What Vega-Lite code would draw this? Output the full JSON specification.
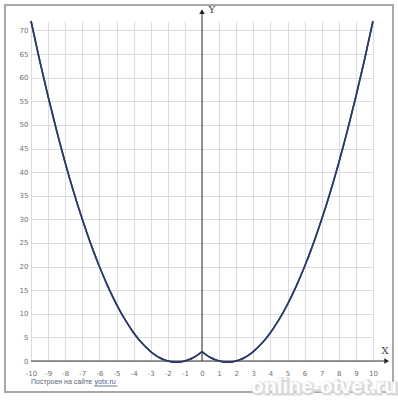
{
  "$schema": "https://vega.github.io/schema/vega-lite/v6.json",
  "width": 342,
  "height": 340,
  "autosize": "none",
  "padding": {"left": 31, "top": 21, "right": 25, "bottom": 39},
  "background": "white",
  "config": {
    "view": {"stroke": null},
    "axis": {
      "grid": true,
      "gridColor": "#dcdcdc",
      "gridWidth": 1,
      "domain": false,
      "ticks": false,
      "labelFont": "DejaVu Sans",
      "labelFontSize": 7,
      "labelColor": "#707070",
      "labelOverlap": false,
      "labelExpr": "'' + datum.value",
      "title": null
    },
    "axisX": {"tickCount": 20, "labelOverlap": false, "labelPadding": 8, "labelFlush": false},
    "axisY": {"tickCount": 15, "labelOverlap": false, "labelPadding": 3, "labelFlush": false}
  },
  "datasets": {
    "curve": [
      {"x": -10, "y": 72, "branch": "L"},
      {"x": -9.5, "y": 63.75, "branch": "L"},
      {"x": -9, "y": 56, "branch": "L"},
      {"x": -8.5, "y": 48.75, "branch": "L"},
      {"x": -8, "y": 42, "branch": "L"},
      {"x": -7.5, "y": 35.75, "branch": "L"},
      {"x": -7, "y": 30, "branch": "L"},
      {"x": -6.5, "y": 24.75, "branch": "L"},
      {"x": -6, "y": 20, "branch": "L"},
      {"x": -5.5, "y": 15.75, "branch": "L"},
      {"x": -5, "y": 12, "branch": "L"},
      {"x": -4.5, "y": 8.75, "branch": "L"},
      {"x": -4, "y": 6, "branch": "L"},
      {"x": -3.5, "y": 3.75, "branch": "L"},
      {"x": -3, "y": 2, "branch": "L"},
      {"x": -2.75, "y": 1.3125, "branch": "L"},
      {"x": -2.5, "y": 0.75, "branch": "L"},
      {"x": -2.25, "y": 0.3125, "branch": "L"},
      {"x": -2, "y": 0, "branch": "L"},
      {"x": -1.75, "y": -0.1875, "branch": "L"},
      {"x": -1.5, "y": -0.25, "branch": "L"},
      {"x": -1.25, "y": -0.1875, "branch": "L"},
      {"x": -1, "y": 0, "branch": "L"},
      {"x": -0.75, "y": 0.3125, "branch": "L"},
      {"x": -0.5, "y": 0.75, "branch": "L"},
      {"x": -0.25, "y": 1.3125, "branch": "L"},
      {"x": 0, "y": 2, "branch": "L"},
      {"x": 0, "y": 2, "branch": "R"},
      {"x": 0.25, "y": 1.3125, "branch": "R"},
      {"x": 0.5, "y": 0.75, "branch": "R"},
      {"x": 0.75, "y": 0.3125, "branch": "R"},
      {"x": 1, "y": 0, "branch": "R"},
      {"x": 1.25, "y": -0.1875, "branch": "R"},
      {"x": 1.5, "y": -0.25, "branch": "R"},
      {"x": 1.75, "y": -0.1875, "branch": "R"},
      {"x": 2, "y": 0, "branch": "R"},
      {"x": 2.25, "y": 0.3125, "branch": "R"},
      {"x": 2.5, "y": 0.75, "branch": "R"},
      {"x": 2.75, "y": 1.3125, "branch": "R"},
      {"x": 3, "y": 2, "branch": "R"},
      {"x": 3.5, "y": 3.75, "branch": "R"},
      {"x": 4, "y": 6, "branch": "R"},
      {"x": 4.5, "y": 8.75, "branch": "R"},
      {"x": 5, "y": 12, "branch": "R"},
      {"x": 5.5, "y": 15.75, "branch": "R"},
      {"x": 6, "y": 20, "branch": "R"},
      {"x": 6.5, "y": 24.75, "branch": "R"},
      {"x": 7, "y": 30, "branch": "R"},
      {"x": 7.5, "y": 35.75, "branch": "R"},
      {"x": 8, "y": 42, "branch": "R"},
      {"x": 8.5, "y": 48.75, "branch": "R"},
      {"x": 9, "y": 56, "branch": "R"},
      {"x": 9.5, "y": 63.75, "branch": "R"},
      {"x": 10, "y": 72, "branch": "R"}
    ]
  },
  "layer": [
    {
      "data": {"name": "curve"},
      "mark": {"type": "line", "color": "#2c3a6a", "strokeWidth": 1.6, "interpolate": "monotone", "clip": false},
      "encoding": {
        "x": {"field": "x", "type": "quantitative", "scale": {"domain": [-10, 10], "nice": false, "zero": false},
              "axis": {"tickCount": 20, "tickMinStep": 1, "labelOverlap": false}},
        "y": {"field": "y", "type": "quantitative", "scale": {"domain": [0, 72], "nice": false, "zero": false},
              "axis": {"tickCount": 15, "labelOverlap": false}},
        "detail": {"field": "branch"},
        "order": {"field": "x", "type": "quantitative"}
      }
    },
    {
      "data": {"values": [{}]},
      "mark": {"type": "rect", "fill": null, "stroke": "#a8a8a8", "strokeWidth": 2, "clip": false},
      "encoding": {
        "x": {"datum": -11.52, "type": "quantitative"},
        "x2": {"datum": 11.17},
        "y": {"datum": 75.4, "type": "quantitative"},
        "y2": {"datum": -6.56}
      }
    },
    {
      "data": {"values": [{}]},
      "mark": {"type": "rule", "color": "#333333", "strokeWidth": 1},
      "encoding": {
        "x": {"datum": -10, "type": "quantitative"},
        "x2": {"datum": 10.8},
        "y": {"datum": 0, "type": "quantitative"}
      }
    },
    {
      "data": {"values": [{}]},
      "mark": {"type": "rule", "color": "#333333", "strokeWidth": 1},
      "encoding": {
        "x": {"datum": 0, "type": "quantitative"},
        "y": {"datum": 0, "type": "quantitative"},
        "y2": {"datum": 74}
      }
    },
    {
      "data": {"values": [{}]},
      "mark": {"type": "point", "shape": "triangle-right", "filled": true, "color": "#222222", "size": 30, "opacity": 1},
      "encoding": {
        "x": {"datum": 10.8, "type": "quantitative"},
        "y": {"datum": 0, "type": "quantitative"}
      }
    },
    {
      "data": {"values": [{}]},
      "mark": {"type": "point", "shape": "triangle-up", "filled": true, "color": "#222222", "size": 30, "opacity": 1},
      "encoding": {
        "x": {"datum": 0, "type": "quantitative"},
        "y": {"datum": 74, "type": "quantitative"}
      }
    },
    {
      "data": {"name": "curve"},
      "mark": {"type": "line", "color": "#2c3a6a", "strokeWidth": 1.6, "interpolate": "monotone", "clip": false},
      "encoding": {
        "x": {"field": "x", "type": "quantitative"},
        "y": {"field": "y", "type": "quantitative"},
        "detail": {"field": "branch"},
        "order": {"field": "x", "type": "quantitative"}
      }
    },
    {
      "data": {"values": [{"t": "X", "x": 10.7, "y": 2.2}, {"t": "Y", "x": 0.58, "y": 74.3}]},
      "mark": {"type": "text", "font": "DejaVu Serif", "fontSize": 10, "color": "#444444", "align": "center", "baseline": "middle"},
      "encoding": {
        "x": {"field": "x", "type": "quantitative"},
        "y": {"field": "y", "type": "quantitative"},
        "text": {"field": "t"}
      }
    },
    {
      "data": {"values": [{}]},
      "mark": {"type": "text", "text": "Построен на сайте", "font": "Liberation Sans", "fontSize": 7, "color": "#5a6275", "align": "left", "baseline": "middle"},
      "encoding": {
        "x": {"datum": -10, "type": "quantitative"},
        "y": {"datum": -4.45, "type": "quantitative"}
      }
    },
    {
      "data": {"values": [{}]},
      "mark": {"type": "text", "text": "yotx.ru", "font": "Liberation Sans", "fontSize": 7, "color": "#4a5a8a", "align": "left", "baseline": "middle"},
      "encoding": {
        "x": {"datum": -6.28, "type": "quantitative"},
        "y": {"datum": -4.45, "type": "quantitative"}
      }
    },
    {
      "data": {"values": [{}]},
      "mark": {"type": "rule", "color": "#4a5a8a", "strokeWidth": 0.8},
      "encoding": {
        "x": {"datum": -6.28, "type": "quantitative"},
        "x2": {"datum": -4.95},
        "y": {"datum": -5.3, "type": "quantitative"}
      }
    },
    {
      "data": {"values": [{}]},
      "mark": {"type": "text", "text": "online-otvet.ru", "font": "Liberation Sans", "fontWeight": "bold", "fontSize": 21, "color": "#cccccc", "stroke": "#dadada", "strokeWidth": 3, "align": "center", "baseline": "middle", "dx": 1, "dy": 1},
      "encoding": {
        "x": {"datum": 7.13, "type": "quantitative"},
        "y": {"datum": -5.5, "type": "quantitative"}
      }
    },
    {
      "data": {"values": [{}]},
      "mark": {"type": "text", "text": "online-otvet.ru", "font": "Liberation Sans", "fontWeight": "bold", "fontSize": 21, "color": "#ffffff", "align": "center", "baseline": "middle"},
      "encoding": {
        "x": {"datum": 7.13, "type": "quantitative"},
        "y": {"datum": -5.5, "type": "quantitative"}
      }
    }
  ]
}
